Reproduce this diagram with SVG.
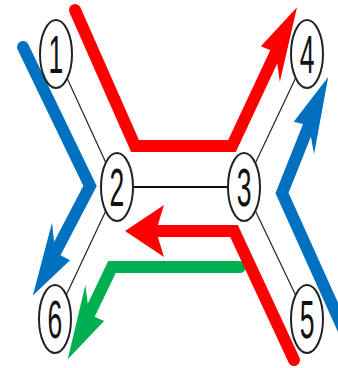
<svg xmlns="http://www.w3.org/2000/svg" width="338" height="368" viewBox="0 0 338 368">
<style>
.conn{stroke:#222;stroke-width:1.2;fill:none;vector-effect:non-scaling-stroke}
.bar{stroke:#111;stroke-width:2.2;fill:none;vector-effect:non-scaling-stroke}
.node ellipse{fill:#fff;stroke:#222;stroke-width:2;vector-effect:non-scaling-stroke}
.node text{font-family:"Liberation Sans",Arial,sans-serif;font-size:53px;fill:#111;text-anchor:middle}
.flow{fill:none;stroke-width:12;stroke-linejoin:miter;stroke-linecap:round;vector-effect:non-scaling-stroke}
.red{stroke:#FF0000}.blue{stroke:#0070C0}.green{stroke:#00B050}
</style>
<defs>
<marker id="ahRed" markerUnits="userSpaceOnUse" markerWidth="80" markerHeight="50" refX="18" refY="0" orient="auto" overflow="visible"><path d="M78,0 L0,-26 L16,0 L0,26 Z" fill="#FF0000"/></marker>
<marker id="ahBlue" markerUnits="userSpaceOnUse" markerWidth="80" markerHeight="50" refX="18" refY="0" orient="auto" overflow="visible"><path d="M78,0 L0,-26 L16,0 L0,26 Z" fill="#0070C0"/></marker>
<marker id="ahGreen" markerUnits="userSpaceOnUse" markerWidth="80" markerHeight="50" refX="18" refY="0" orient="auto" overflow="visible"><path d="M78,0 L0,-26 L16,0 L0,26 Z" fill="#00B050"/></marker>
</defs>
<rect width="338" height="368" fill="#fff"/>
<g transform="scale(0.5,1)">
<g id="connectors">
<line class="conn" x1="112" y1="54" x2="234" y2="187"/>
<line class="conn" x1="614" y1="54" x2="488" y2="187"/>
<line class="conn" x1="234" y1="187" x2="110" y2="319"/>
<line class="conn" x1="488" y1="187" x2="614" y2="319"/>
<line class="bar" x1="234" y1="187" x2="488" y2="187"/>
<polyline class="flow red" points="150,10 270,146 464,146 553,51" marker-end="url(#ahRed)"/>
<polyline class="flow blue" points="46,47 180,186 109,254" marker-end="url(#ahBlue)"/>
<polyline class="flow green" points="480,267 224,267 177,316" marker-end="url(#ahGreen)"/>
<polyline class="flow red" points="588,360 468,231 310,231" marker-end="url(#ahRed)"/>
<polyline class="flow blue" points="700,344 564,193 619,124" marker-end="url(#ahBlue)"/>
</g>
<g id="node1" class="node"><ellipse cx="112" cy="54" rx="32" ry="34"/><text x="112" y="73">1</text></g>
<g id="node2" class="node"><ellipse cx="234" cy="187" rx="32" ry="34"/><text x="234" y="206">2</text></g>
<g id="node3" class="node"><ellipse cx="488" cy="187" rx="32" ry="34"/><text x="488" y="206">3</text></g>
<g id="node4" class="node"><ellipse cx="614" cy="54" rx="32" ry="34"/><text x="614" y="73">4</text></g>
<g id="node5" class="node"><ellipse cx="614" cy="319" rx="32" ry="34"/><text x="614" y="338">5</text></g>
<g id="node6" class="node"><ellipse cx="110" cy="319" rx="32" ry="34"/><text x="110" y="338">6</text></g>
</g>
</svg>
